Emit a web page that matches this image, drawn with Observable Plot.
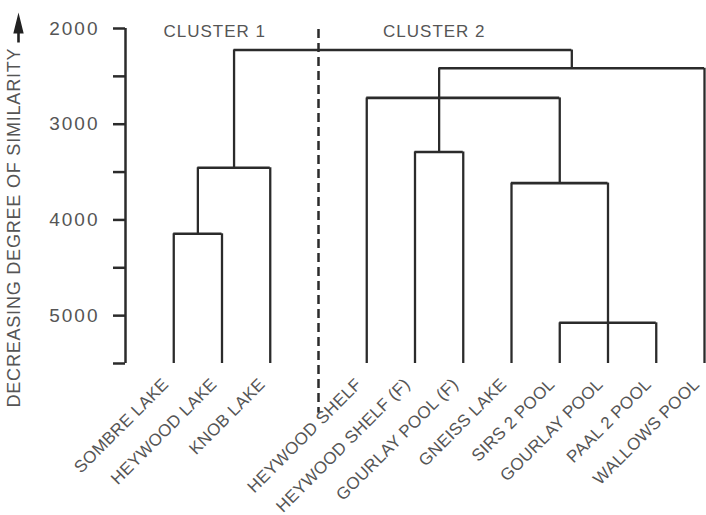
<!DOCTYPE html>
<html>
<head>
<meta charset="utf-8">
<script src="https://cdn.jsdelivr.net/npm/d3@7"></script>
<script src="https://cdn.jsdelivr.net/npm/@observablehq/plot@0.6"></script>
<style>
  html, body { margin: 0; padding: 0; background: #fff; }
  #chart { width: 706px; height: 515px; }
</style>
</head>
<body>
<div id="chart"></div>
<script>
// ---- data ----
const leaves = ["SOMBRE LAKE", "HEYWOOD LAKE", "KNOB LAKE", "HEYWOOD SHELF", "HEYWOOD SHELF (F)",
  "GOURLAY POOL (F)", "GNEISS LAKE", "SIRS 2 POOL", "GOURLAY POOL", "PAAL 2 POOL", "WALLOWS POOL"];
const leafSlots = [0, 1, 2, 4, 5, 6, 7, 8, 9, 10, 11];
const mergeIds = ["A", "B", "C", "D", "F", "E", "G", "H"];
const mergeChildren = [
  ["SOMBRE LAKE", "HEYWOOD LAKE"],
  ["A", "KNOB LAKE"],
  ["SIRS 2 POOL", "GOURLAY POOL", "PAAL 2 POOL"],
  ["GNEISS LAKE", "C"],
  ["HEYWOOD SHELF (F)", "GOURLAY POOL (F)"],
  ["HEYWOOD SHELF", "D"],
  ["F", "WALLOWS POOL"],
  ["B", "G"]
];
const mergeHeights = [4145, 3455, 5075, 3615, 3290, 2725, 2415, 2225];
const yDomain = [2000, 5500];
const yTicks = [2000, 2500, 3000, 3500, 4000, 4500, 5000, 5500];
const clusterNames = ["CLUSTER 1", "CLUSTER 2"];
const clusterSlots = [0.85, 5.4];
const clusterLevel = 2035;
const dividerSlot = 3;
const dividerRange = [2010, 6020];
const slotDomain = [-1, 11];
const yLabel = "DECREASING DEGREE OF SIMILARITY";

// ---- build segments ----
const pos = new Map();
leaves.forEach((n, i) => pos.set(n, {x: leafSlots[i], y: yDomain[1]}));
const verticals = [], horizontals = [];
mergeIds.forEach((id, i) => {
  const h = mergeHeights[i];
  const kids = mergeChildren[i].map(c => pos.get(c));
  const xs = kids.map(k => k.x);
  const x1 = Math.min(...xs), x2 = Math.max(...xs);
  horizontals.push({y: h, x1, x2});
  kids.forEach(k => verticals.push({x: k.x, y1: k.y, y2: h}));
  pos.set(id, {x: (x1 + x2) / 2, y: h});
});
const leafData = leaves.map((n, i) => ({name: n, x: leafSlots[i]}));
const clusters = clusterNames.map((n, i) => ({name: n, x: clusterSlots[i]}));

const ink = "#2b2b2b";
const grey = "#555";

// upward arrow glyph (head + stem) for the axis title
const upArrow = {
  draw(ctx) {
    ctx.moveTo(0, -15); ctx.lineTo(5.2, 6); ctx.lineTo(1.3, 6); ctx.lineTo(1.3, 15);
    ctx.lineTo(-1.3, 15); ctx.lineTo(-1.3, 6); ctx.lineTo(-5.2, 6); ctx.closePath();
  }
};

const chart = Plot.plot({
  width: 706,
  height: 515,
  marginLeft: 125,
  marginRight: 2,
  marginTop: 28,
  marginBottom: 152,
  style: {fontFamily: "Liberation Sans, Arial, sans-serif", background: "#fff"},
  x: {domain: slotDomain, axis: null},
  y: {domain: yDomain, reverse: true, axis: null},
  marks: [
    Plot.axisY({ticks: yTicks, tickSize: 12, tickPadding: 14, strokeWidth: 2.5, stroke: ink, fill: grey,
      fontSize: 19, tickFormat: d => d % 1000 === 0 ? String(d) : "", label: null}),
    Plot.ruleX([slotDomain[0]], {y1: yDomain[0], y2: yDomain[1], stroke: ink, strokeWidth: 2.5}),
    Plot.ruleX(verticals, {x: "x", y1: "y1", y2: "y2", stroke: ink, strokeWidth: 2.3}),
    Plot.ruleY(horizontals, {y: "y", x1: "x1", x2: "x2", stroke: ink, strokeWidth: 2.6}),
    Plot.ruleX([dividerSlot], {y1: dividerRange[0], y2: dividerRange[1], stroke: ink, strokeWidth: 2.5, strokeDasharray: "9,5"}),
    Plot.text(clusters, {x: "x", y: clusterLevel, text: "name", fontSize: 17, fill: grey, className: "ls1"}),
    Plot.text(leafData, {x: "x", y: yDomain[1], text: "name", rotate: -45, textAnchor: "end", dx: -8, dy: 18,
      fontSize: 17, fill: grey, className: "ls03"}),
    Plot.text([yLabel], {frameAnchor: "bottom-left", dx: -106, dy: 44, rotate: -90, textAnchor: "start",
      fontSize: 18, fill: grey, className: "ls08"}),
    Plot.dot([0], {frameAnchor: "top-left", dx: -107, dy: -1, symbol: upArrow, r: 5, fill: "#222", stroke: "none"})
  ]
});
const css = document.createElement("style");
css.textContent = `.ls1 text{letter-spacing:1px}.ls03 text{letter-spacing:0.3px}.ls08 text{letter-spacing:0.8px}g[aria-label="y-axis tick label"] text{letter-spacing:2px}`;
document.head.appendChild(css);
document.getElementById("chart").appendChild(chart);
</script>
</body>
</html>
